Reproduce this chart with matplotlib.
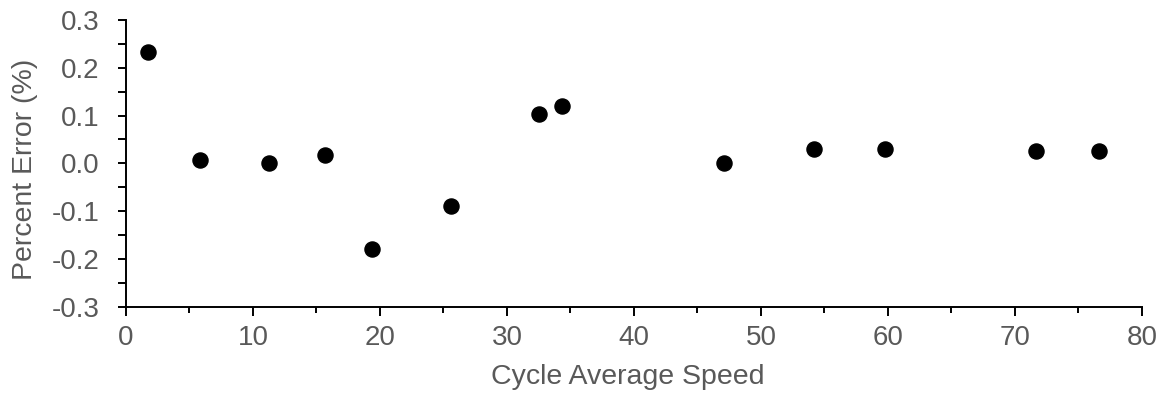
import matplotlib.pyplot as plt
from matplotlib.ticker import MultipleLocator, FormatStrFormatter

plt.rcParams['font.family'] = ['Liberation Sans', 'DejaVu Sans']

speed = [1.7, 5.8, 11.3, 15.7, 19.4, 25.6, 32.5, 34.3, 47.1, 54.2, 59.8, 71.7, 76.6]
pct_error = [0.233, 0.007, 0.000, 0.017, -0.180, -0.089, 0.103, 0.121, 0.001, 0.031, 0.030, 0.026, 0.026]

grey = "#595959"

fig = plt.figure(figsize=(11.63, 3.94), dpi=100)
ax = fig.add_axes([0.1083, 0.2216, 0.8735, 0.7276])

ax.scatter(speed, pct_error, s=118, color="black", zorder=3, clip_on=False)

ax.set_xlim(0, 80)
ax.set_ylim(-0.3, 0.3)
ax.xaxis.set_major_locator(MultipleLocator(10))
ax.xaxis.set_minor_locator(MultipleLocator(5))
ax.yaxis.set_major_locator(MultipleLocator(0.1))
ax.yaxis.set_minor_locator(MultipleLocator(0.05))
ax.yaxis.set_major_formatter(FormatStrFormatter("%.1f"))

for side in ("top", "right"):
    ax.spines[side].set_visible(False)
for side in ("left", "bottom"):
    ax.spines[side].set_linewidth(1.4)
    ax.spines[side].set_color("black")

# Excel-like ticks: all outside, x minors a bit shorter
ax.tick_params(axis="x", which="major", direction="out", length=6.5, width=1.4,
               color="black", labelsize=20, labelcolor=grey, pad=7)
ax.tick_params(axis="y", which="major", direction="out", length=6, width=1.4,
               color="black", labelsize=20, labelcolor=grey, pad=13)
ax.tick_params(axis="x", which="minor", direction="out", length=4.5, width=1.4, color="black")
ax.tick_params(axis="y", which="minor", direction="out", length=6, width=1.4, color="black")

ax.set_xlabel("Cycle Average Speed", fontsize=20.5, color=grey)
ax.set_ylabel("Percent Error (%)", fontsize=20.5, color=grey)
ax.xaxis.set_label_coords(0.494, -0.2)
ax.yaxis.set_label_coords(-0.087, 0.48)

fig.savefig("out.png", dpi=100)
